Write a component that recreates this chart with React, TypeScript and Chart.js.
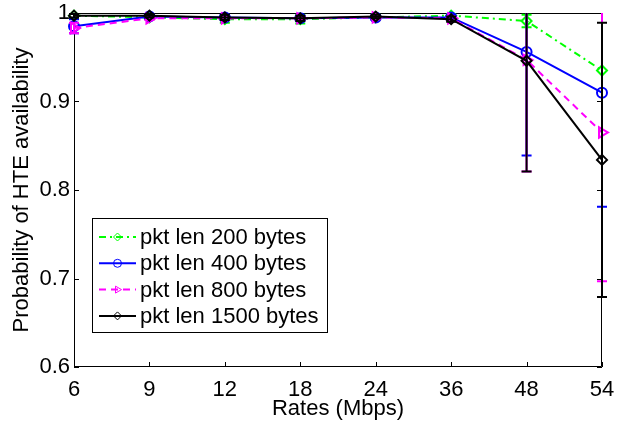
import React, { useEffect, useRef } from 'react';
import { Chart, registerables } from 'chart.js';

Chart.register(...registerables);

// Transmission rates on the x axis (Mbps)
const rates = ['6', '9', '12', '18', '24', '36', '48', '54'];
const yTickValues = [0.6, 0.7, 0.8, 0.9, 1];

// Mean probability of HTE availability and its error (half-width) per rate
const len200 = [0.997, 0.995, 0.993, 0.993, 0.995, 0.997, 0.991, 0.935];
const err200 = [0.003, 0.002, 0.004, 0.005, 0.003, 0.002, 0.007, 0.0];

const len400 = [0.985, 0.996, 0.995, 0.994, 0.995, 0.995, 0.956, 0.91];
const err400 = [0.008, 0.002, 0.003, 0.002, 0.002, 0.003, 0.117, 0.129];

const len800 = [0.983, 0.994, 0.994, 0.994, 0.995, 0.994, 0.947, 0.865];
const err800 = [0.006, 0.002, 0.002, 0.002, 0.002, 0.002, 0.126, 0.168];

const len1500 = [0.997, 0.997, 0.995, 0.994, 0.996, 0.993, 0.946, 0.834];
const err1500 = [0.002, 0.002, 0.003, 0.003, 0.002, 0.003, 0.125, 0.155];

const seriesLabels = ['pkt len 200 bytes', 'pkt len 400 bytes', 'pkt len 800 bytes', 'pkt len 1500 bytes'];

const FONT = "'Liberation Sans', Arial, Helvetica, sans-serif";
const FONT_SIZE = 22;

type Series = {
  label: string;
  data: number[];
  err: number[];
  color: string;
  dash: number[];
  pointStyle: string;
  rotation: number;
  radius: number;
};

const series: Series[] = [
  { label: seriesLabels[0], data: len200, err: err200, color: '#00ff00', dash: [7, 4, 2, 4], pointStyle: 'rectRot', rotation: 0, radius: 5 },
  { label: seriesLabels[1], data: len400, err: err400, color: '#0000ff', dash: [], pointStyle: 'circle', rotation: 0, radius: 5 },
  { label: seriesLabels[2], data: len800, err: err800, color: '#ff00ff', dash: [7, 5], pointStyle: 'triangle', rotation: 90, radius: 6 },
  { label: seriesLabels[3], data: len1500, err: err1500, color: '#000000', dash: [], pointStyle: 'rectRot', rotation: 0, radius: 5 },
];

function drawMarker(ctx: CanvasRenderingContext2D, style: string, x: number, y: number, r: number) {
  ctx.beginPath();
  if (style === 'circle') {
    ctx.arc(x, y, r, 0, Math.PI * 2);
  } else if (style === 'rectRot') {
    ctx.moveTo(x, y - r);
    ctx.lineTo(x + r, y);
    ctx.lineTo(x, y + r);
    ctx.lineTo(x - r, y);
    ctx.closePath();
  } else if (style === 'triangle') {
    // right-pointing triangle
    ctx.moveTo(x + r, y);
    ctx.lineTo(x - r * 0.5, y - r * 0.87);
    ctx.lineTo(x - r * 0.5, y + r * 0.87);
    ctx.closePath();
  }
  ctx.stroke();
}

// Box around the plot with inward tick marks on all four sides
const framePlugin = {
  id: 'frame',
  beforeDatasetsDraw(chart: any) {
    const { ctx, chartArea } = chart;
    const { left, right, top, bottom } = chartArea;
    const xScale = chart.scales.x;
    const yScale = chart.scales.y;
    const tick = 5;
    ctx.save();
    ctx.strokeStyle = '#000';
    ctx.lineWidth = 1;
    ctx.beginPath();
    ctx.rect(left + 0.5, top + 0.5, right - left - 1, bottom - top - 1);
    ctx.stroke();
    ctx.beginPath();
    rates.forEach((_, i) => {
      const x = Math.round(xScale.getPixelForValue(i)) + 0.5;
      ctx.moveTo(x, bottom);
      ctx.lineTo(x, bottom - tick);
      ctx.moveTo(x, top);
      ctx.lineTo(x, top + tick);
    });
    yTickValues.forEach((v) => {
      const y = Math.round(yScale.getPixelForValue(v)) + 0.5;
      ctx.moveTo(left, y);
      ctx.lineTo(left + tick, y);
      ctx.moveTo(right, y);
      ctx.lineTo(right - tick, y);
    });
    ctx.stroke();
    ctx.restore();
  },
};

// Vertical error bars with caps, drawn right after each series
const errorBarPlugin = {
  id: 'errorBars',
  afterDatasetDraw(chart: any, args: any) {
    const s = series[args.index];
    if (!s) return;
    const { ctx, chartArea } = chart;
    const xScale = chart.scales.x;
    const yScale = chart.scales.y;
    const cap = 5;
    ctx.save();
    ctx.beginPath();
    ctx.rect(chartArea.left - cap - 1, chartArea.top, chartArea.right - chartArea.left + 2 * cap + 2, chartArea.bottom - chartArea.top);
    ctx.clip();
    ctx.strokeStyle = s.color;
    ctx.lineWidth = 2;
    ctx.setLineDash([]);
    s.data.forEach((v, i) => {
      const e = s.err[i];
      if (!e) return;
      const x = xScale.getPixelForValue(i);
      const yHi = yScale.getPixelForValue(v + e);
      const yLo = yScale.getPixelForValue(v - e);
      ctx.beginPath();
      ctx.moveTo(x, yHi);
      ctx.lineTo(x, yLo);
      ctx.moveTo(x - cap, yHi);
      ctx.lineTo(x + cap, yHi);
      ctx.moveTo(x - cap, yLo);
      ctx.lineTo(x + cap, yLo);
      ctx.stroke();
    });
    ctx.restore();
  },
};

// Legend box in the lower-left part of the plot
const legendPlugin = {
  id: 'boxLegend',
  afterDraw(chart: any) {
    const { ctx, chartArea } = chart;
    const bx = chartArea.left + 18;
    const by = chartArea.top + 205;
    const bw = 235;
    const bh = 114;
    const rowH = 26.3;
    ctx.save();
    ctx.fillStyle = '#fff';
    ctx.fillRect(bx, by, bw, bh);
    ctx.strokeStyle = '#000';
    ctx.lineWidth = 1;
    ctx.strokeRect(bx + 0.5, by + 0.5, bw, bh);
    ctx.font = `${FONT_SIZE}px ${FONT}`;
    ctx.textBaseline = 'middle';
    ctx.textAlign = 'left';
    series.forEach((s, i) => {
      const y = by + 19 + i * rowH;
      const x0 = bx + 7;
      const x1 = bx + 44;
      ctx.strokeStyle = s.color;
      ctx.lineWidth = 2;
      ctx.setLineDash(s.dash);
      ctx.beginPath();
      ctx.moveTo(x0, y);
      ctx.lineTo(x1, y);
      ctx.stroke();
      ctx.setLineDash([]);
      ctx.lineWidth = 1;
      drawMarker(ctx, s.pointStyle, (x0 + x1) / 2, y, 4);
      ctx.fillStyle = '#000';
      ctx.fillText(s.label, bx + 48, y + 1);
    });
    ctx.restore();
  },
};

export default function App() {
  const canvasRef = useRef<HTMLCanvasElement | null>(null);

  useEffect(() => {
    document.body.style.margin = '0';
    const canvas = canvasRef.current;
    if (!canvas) return;

    Chart.defaults.font.family = FONT;
    Chart.defaults.font.size = FONT_SIZE;
    Chart.defaults.color = '#000';

    const chart = new Chart(canvas, {
      type: 'line',
      data: {
        labels: rates,
        datasets: series.map((s, i) => ({
          label: s.label,
          data: s.data,
          borderColor: s.color,
          borderWidth: 2,
          borderDash: s.dash,
          backgroundColor: 'rgba(0,0,0,0)',
          fill: false,
          tension: 0,
          pointStyle: s.pointStyle as any,
          rotation: s.rotation,
          pointRadius: s.radius,
          pointBorderWidth: 2,
          pointBorderColor: s.color,
          pointBackgroundColor: 'rgba(0,0,0,0)',
          clip: false as any,
          order: series.length - i,
        })),
      },
      options: {
        responsive: false,
        animation: false,
        devicePixelRatio: 1,
        layout: { padding: { left: 0, top: 13, right: 16, bottom: 0 } },
        plugins: {
          legend: { display: false },
          tooltip: { enabled: false },
        },
        scales: {
          x: {
            type: 'category',
            offset: false,
            grid: { display: false, drawTicks: false },
            border: { display: false },
            ticks: { padding: 10, maxRotation: 0, autoSkip: false },
            title: { display: true, text: 'Rates (Mbps)', padding: { top: 0, bottom: 3 } },
            afterFit: (scale: any) => {
              scale.height = 58;
              scale.paddingLeft = 0;
              scale.paddingRight = 0;
            },
          },
          y: {
            type: 'linear',
            min: 0.6,
            max: 1,
            grid: { display: false, drawTicks: false },
            border: { display: false },
            ticks: {
              stepSize: 0.1,
              padding: 4,
              callback: (v: any) => String(Number(Number(v).toFixed(1))),
            },
            title: { display: true, text: 'Probability of HTE availability', padding: { top: 9, bottom: 0 } },
            afterFit: (scale: any) => {
              scale.width = 74;
              scale.paddingTop = 0;
              scale.paddingBottom = 0;
            },
          },
        },
      },
      plugins: [framePlugin, errorBarPlugin, legendPlugin],
    });

    return () => chart.destroy();
  }, []);

  return (
    <div style={{ position: 'absolute', left: 0, top: 0, width: 618, height: 425, background: '#fff' }}>
      <canvas ref={canvasRef} width={618} height={425} />
    </div>
  );
}
